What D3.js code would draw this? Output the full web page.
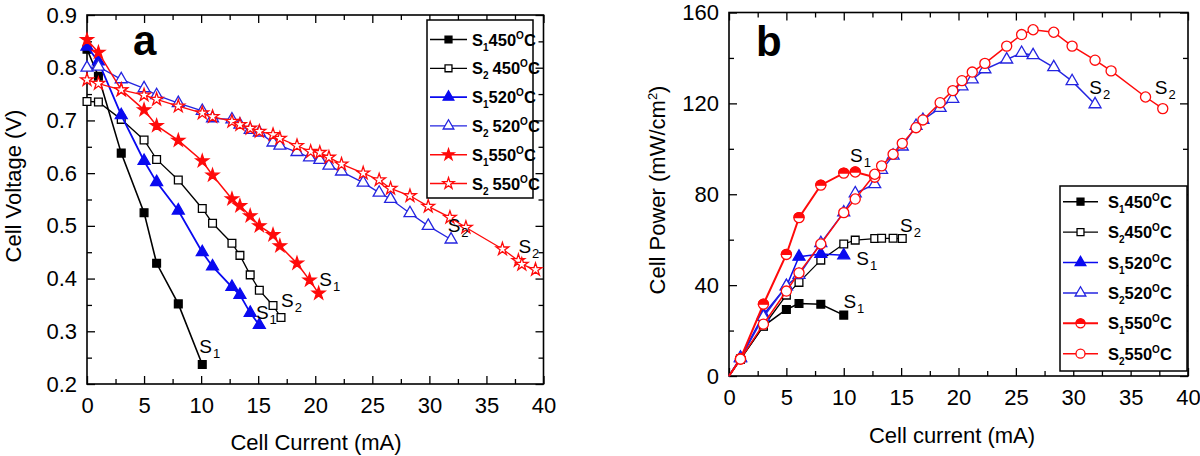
<!DOCTYPE html>
<html><head><meta charset="utf-8">
<script src="https://cdn.jsdelivr.net/npm/d3@7"></script>
<style>body{margin:0;background:#fff}svg{display:block}text{font-family:"Liberation Sans",Arial,Helvetica,sans-serif}</style>
</head><body><svg id="c" width="1200" height="456"></svg>
<script>
// ---------- tick labels ----------
const xTicks = [0, 5, 10, 15, 20, 25, 30, 35, 40];
const xMinor = [2.5, 7.5, 12.5, 17.5, 22.5, 27.5, 32.5, 37.5];
const vTicks = [0.2, 0.3, 0.4, 0.5, 0.6, 0.7, 0.8, 0.9];
const vMinor = [0.25, 0.35, 0.45, 0.55, 0.65, 0.75, 0.85];
const pTicks = [0, 40, 80, 120, 160];
const pMinor = [20, 60, 100, 140];

// ---------- legend ----------
const legendSub = ["1", "2", "1", "2", "1", "2"];
const legendTemp = ["450", "450", "520", "520", "550", "550"];

// ---------- panel a : cell voltage vs current ----------
const a_S1_450_I = [0, 1, 3, 5, 6.1, 8, 10.1];
const a_S1_450_V = [0.835, 0.784, 0.638, 0.525, 0.429, 0.352, 0.237];
const a_S2_450_I = [0, 1, 3, 5, 6.1, 8, 10.1, 11, 12.7, 13.4, 14.3, 15.1, 16.3, 17.0];
const a_S2_450_V = [0.736, 0.735, 0.702, 0.663, 0.626, 0.587, 0.533, 0.505, 0.467, 0.444, 0.407, 0.378, 0.349, 0.326];
const a_S1_520_I = [0, 1, 3, 5, 6.1, 8, 10.1, 11, 12.7, 13.4, 14.3, 15.1];
const a_S1_520_V = [0.84, 0.812, 0.71, 0.623, 0.583, 0.529, 0.45, 0.423, 0.384, 0.369, 0.335, 0.312];
const a_S2_520_I = [0, 1, 3, 5, 6.1, 8, 10.1, 11, 12.7, 13.4, 14.3, 15.1, 16.3, 16.9, 18.4, 19.5, 20.4, 21.2, 22.3, 24.2, 25.6, 26.6, 28.3, 29.9, 31.9];
const a_S2_520_V = [0.80, 0.802, 0.778, 0.761, 0.748, 0.733, 0.718, 0.704, 0.702, 0.692, 0.682, 0.677, 0.658, 0.652, 0.64, 0.63, 0.625, 0.614, 0.603, 0.582, 0.563, 0.551, 0.524, 0.5, 0.474];
const a_S1_550_I = [0, 1, 3, 5, 6.1, 8, 10.1, 11, 12.7, 13.4, 14.3, 15.1, 16.3, 16.9, 18.4, 19.5, 20.3];
const a_S1_550_V = [0.853, 0.829, 0.758, 0.72, 0.69, 0.662, 0.623, 0.596, 0.551, 0.538, 0.519, 0.5, 0.483, 0.462, 0.429, 0.397, 0.372];
const a_S2_550_I = [0, 1, 3, 5, 6.1, 8, 10.1, 11, 12.7, 13.4, 14.3, 15.1, 16.3, 16.9, 18.4, 19.6, 20.4, 21.2, 22.3, 24.2, 25.6, 26.6, 28.3, 29.9, 31.8, 33.2, 36.4, 37.8, 38.1, 39.3];
const a_S2_550_V = [0.777, 0.77, 0.758, 0.748, 0.74, 0.727, 0.714, 0.707, 0.698, 0.692, 0.685, 0.679, 0.673, 0.666, 0.652, 0.641, 0.639, 0.63, 0.617, 0.6, 0.587, 0.571, 0.557, 0.537, 0.516, 0.497, 0.456, 0.434, 0.427, 0.417];
const a_labelSub = ["1", "1", "2", "1", "2", "2"];
const a_labelI = [9.84, 14.8, 17.0, 20.36, 31.6, 37.8];
const a_labelV = [0.259, 0.323, 0.347, 0.386, 0.489, 0.449];

// ---------- panel b : cell power vs current ----------
const b_S1_450_I = [0, 1, 3, 5, 6.1, 8, 10];
const b_S1_450_P = [0, 7.5, 22, 29.3, 31.9, 31.6, 26.8];
const b_S2_450_I = [0, 1, 3, 5, 6.1, 8, 10, 11, 12.7, 13.3, 14.3, 15.1];
const b_S2_450_P = [0, 7.4, 21.9, 35.6, 41.2, 51, 58.1, 59.8, 60.5, 60.6, 60.6, 60.5];
const b_S1_520_I = [0, 1, 3, 5, 6.1, 8, 10];
const b_S1_520_P = [0, 8, 27, 39.4, 52.5, 53.7, 53.1];
const b_S2_520_I = [0, 1, 3, 5, 6.1, 8, 10, 11, 12.7, 13.3, 14.3, 15.1, 16.3, 16.9, 18.4, 19.5, 20.3, 21.2, 22.3, 24.2, 25.5, 26.5, 28.3, 29.9, 31.9];
const b_S2_520_P = [0, 7.8, 26, 39.6, 44.5, 58.5, 72, 80.4, 84.4, 90.7, 97, 101, 110.1, 112.7, 118, 122, 127.5, 130.5, 135, 139.3, 142.2, 141.2, 135.9, 129.8, 119.6];
const b_S1_550_I = [0, 1, 3, 5, 6.1, 8, 10, 11, 12.7];
const b_S1_550_P = [0, 7.6, 31.6, 53.5, 69.7, 84, 89.3, 89.8, 87.5];
const b_S2_550_I = [0, 1, 3, 5, 6.1, 8, 10, 11, 12.7, 13.3, 14.3, 15.1, 16.3, 16.9, 18.4, 19.5, 20.3, 21.2, 22.3, 24.2, 25.5, 26.5, 28.3, 29.9, 31.9, 33.3, 36.3, 37.8];
const b_S2_550_P = [0, 7.4, 22.8, 37.4, 45.4, 58.1, 71.9, 77.9, 88.8, 92.5, 97.6, 102.4, 109.3, 112.7, 120.3, 125.6, 130, 133.8, 137.6, 145.2, 150.3, 152.4, 151.3, 145.2, 139, 134.3, 122.8, 117.7];
const b_labelSub = ["1", "1", "2", "1", "2", "2"];
const b_labelI = [9.97, 11.1, 14.9, 10.55, 31.4, 37.1];
const b_labelP = [29.8, 48.9, 63.5, 94, 124.1, 124.1];

// ---------- drawing ----------
const svg = d3.select("#c");
const BLUE = "#0a0af0", BLUE2 = "#2424e0", RED = "#ff0a0a", BLACK = "#000";
const styleA = [
  {c: BLACK, m: "square", f: "full", w: 1.6},
  {c: BLACK, m: "square", f: "open", w: 1.3},
  {c: BLUE, m: "triangle", f: "full", w: 1.8},
  {c: BLUE2, m: "triangle", f: "open", w: 1.3},
  {c: RED, m: "star", f: "full", w: 1.5},
  {c: RED, m: "star", f: "open", w: 1.3}
];
const styleB = [
  {c: BLACK, m: "square", f: "full", w: 1.6},
  {c: BLACK, m: "square", f: "open", w: 1.3},
  {c: BLUE, m: "triangle", f: "full", w: 1.5},
  {c: BLUE2, m: "triangle", f: "open", w: 1.5},
  {c: RED, m: "circle", f: "half", w: 2},
  {c: RED, m: "circle", f: "open", w: 1.5}
];
const symSize = {square: 60, triangle: 62, star: 50, circle: 80};
const symType = {square: d3.symbolSquare, triangle: d3.symbolTriangle, star: d3.symbolStar, circle: d3.symbolCircle};
const FONT = 22;

function marker(g, st, px, py, scale) {
  const k = scale || 1;
  const path = d3.symbol().type(symType[st.m]).size(symSize[st.m] * k)();
  if (st.f === "half") {
    const r = Math.sqrt(symSize.circle * k / Math.PI);
    g.append("circle").attr("cx", px).attr("cy", py).attr("r", r).attr("fill", "#fff").attr("stroke", st.c).attr("stroke-width", 1.3);
    g.append("path").attr("transform", `translate(${px},${py})`)
      .attr("d", d3.arc()({innerRadius: 0, outerRadius: r, startAngle: -Math.PI / 2, endAngle: Math.PI / 2}))
      .attr("fill", st.c).attr("stroke", st.c).attr("stroke-width", 1.3);
  } else {
    g.append("path").attr("transform", `translate(${px},${py})`).attr("d", path)
      .attr("fill", st.f === "full" ? st.c : "#fff").attr("stroke", st.c).attr("stroke-width", 1.3);
  }
}

function axes(g, x, y, yTicks, yMin, yFmt) {
  const [x0, x1] = x.range(), [y0, y1] = y.range();
  const style = sel => { sel.select(".domain").remove(); sel.selectAll("line").attr("stroke", "#000").attr("stroke-width", 1.3); sel.selectAll("text").attr("font-size", FONT).attr("fill", "#000").style("font-family", '"Liberation Sans",Arial,sans-serif'); };
  g.append("g").attr("transform", `translate(0,${y0})`).call(d3.axisBottom(x).tickValues(xTicks).tickSize(-8).tickSizeOuter(0).tickPadding(13)).call(style);
  g.append("g").attr("transform", `translate(0,${y0})`).call(d3.axisBottom(x).tickValues(xMinor).tickSize(-5).tickSizeOuter(0).tickFormat("")).call(style);
  g.append("g").attr("transform", `translate(0,${y1})`).call(d3.axisTop(x).tickValues(xTicks).tickSize(-8).tickSizeOuter(0).tickFormat("")).call(style);
  g.append("g").attr("transform", `translate(0,${y1})`).call(d3.axisTop(x).tickValues(xMinor).tickSize(-5).tickSizeOuter(0).tickFormat("")).call(style);
  g.append("g").attr("transform", `translate(${x0},0)`).call(d3.axisLeft(y).tickValues(yTicks).tickSize(-8).tickSizeOuter(0).tickPadding(10).tickFormat(yFmt)).call(style);
  g.append("g").attr("transform", `translate(${x0},0)`).call(d3.axisLeft(y).tickValues(yMin).tickSize(-5).tickSizeOuter(0).tickFormat("")).call(style);
  g.append("g").attr("transform", `translate(${x1},0)`).call(d3.axisRight(y).tickValues(yTicks).tickSize(-8).tickSizeOuter(0).tickFormat("")).call(style);
  g.append("g").attr("transform", `translate(${x1},0)`).call(d3.axisRight(y).tickValues(yMin).tickSize(-5).tickSizeOuter(0).tickFormat("")).call(style);
  g.append("rect").attr("x", x0).attr("y", y1).attr("width", x1 - x0).attr("height", y0 - y1)
    .attr("fill", "none").attr("stroke", "#000").attr("stroke-width", 1.6);
}

function series(g, x, y, I, Y, st, skipZero) {
  const pts = I.map((v, i) => [v, Y[i]]);
  g.append("path").attr("d", d3.line().x(d => x(d[0])).y(d => y(d[1]))(pts))
    .attr("fill", "none").attr("stroke", st.c).attr("stroke-width", st.w);
  pts.forEach(d => { if (!(skipZero && d[0] === 0)) marker(g, st, x(d[0]), y(d[1])); });
}

function curveLabels(g, x, y, subs, I, Y) {
  subs.forEach((s, i) => {
    const t = g.append("text").attr("x", x(I[i])).attr("y", y(Y[i])).attr("font-size", 19).attr("fill", "#000");
    t.append("tspan").text("S");
    t.append("tspan").attr("font-size", 13).attr("dy", 5).attr("dx", 1).text(s);
  });
}

function legend(g, styles, bx, by, bw, bh, rowY0, rowStep, lineX0, lineX1, textX, spaced) {
  g.append("rect").attr("x", bx).attr("y", by).attr("width", bw).attr("height", bh)
    .attr("fill", "#fff").attr("stroke", "#000").attr("stroke-width", 1.5);
  styles.forEach((st, i) => {
    const cy = rowY0 + i * rowStep;
    g.append("line").attr("x1", lineX0).attr("x2", lineX1).attr("y1", cy).attr("y2", cy).attr("stroke", st.c).attr("stroke-width", st.w);
    marker(g, st, (lineX0 + lineX1) / 2, cy, 0.8);
    const t = g.append("text").attr("x", textX).attr("y", cy + 6).attr("font-size", 16.5).attr("font-weight", "bold").attr("fill", "#000");
    t.append("tspan").text("S");
    t.append("tspan").attr("font-size", 10).attr("dy", 5).text(legendSub[i]);
    t.append("tspan").attr("dy", -5).attr("dx", spaced && legendSub[i] === "2" ? 4 : 0).text(legendTemp[i]);
    t.append("tspan").attr("font-size", 10).attr("dy", -7).text("O");
    t.append("tspan").attr("dy", 7).text("C");
  });
}

// ----- panel a -----
const xa = d3.scaleLinear().domain([0, 40]).range([87, 543.5]);
const ya = d3.scaleLinear().domain([0.2, 0.9]).range([384, 15]);
const ga = svg.append("g");
axes(ga, xa, ya, vTicks, vMinor, d3.format(".1f"));
const aI = [a_S1_450_I, a_S2_450_I, a_S1_520_I, a_S2_520_I, a_S1_550_I, a_S2_550_I];
const aV = [a_S1_450_V, a_S2_450_V, a_S1_520_V, a_S2_520_V, a_S1_550_V, a_S2_550_V];
aI.forEach((I, i) => series(ga, xa, ya, I, aV[i], styleA[i], false));
curveLabels(ga, xa, ya, a_labelSub, a_labelI, a_labelV);
legend(ga, styleA, 427, 20, 106, 178, 39.5, 28.8, 430, 467, 472, true);
ga.append("text").attr("x", 133).attr("y", 55).attr("font-size", 42).attr("font-weight", "bold").text("a");
ga.append("text").attr("x", 316).attr("y", 450).attr("text-anchor", "middle").attr("font-size", FONT).text("Cell Current (mA)");
ga.append("text").attr("transform", "translate(21,186) rotate(-90)").attr("text-anchor", "middle").attr("font-size", FONT).text("Cell Voltage (V)");

// ----- panel b -----
const xb = d3.scaleLinear().domain([0, 40]).range([729, 1188]);
const yb = d3.scaleLinear().domain([0, 160]).range([376, 12.5]);
const gb = svg.append("g");
axes(gb, xb, yb, pTicks, pMinor, d3.format("d"));
const bI = [b_S1_450_I, b_S2_450_I, b_S1_520_I, b_S2_520_I, b_S1_550_I, b_S2_550_I];
const bP = [b_S1_450_P, b_S2_450_P, b_S1_520_P, b_S2_520_P, b_S1_550_P, b_S2_550_P];
bI.forEach((I, i) => series(gb, xb, yb, I, bP[i], styleB[i], true));
curveLabels(gb, xb, yb, b_labelSub, b_labelI, b_labelP);
legend(gb, styleB, 1060, 186, 127, 185, 201.7, 30.4, 1063, 1098, 1108, false);
gb.append("text").attr("x", 756).attr("y", 56).attr("font-size", 42).attr("font-weight", "bold").text("b");
gb.append("text").attr("x", 952).attr("y", 443).attr("text-anchor", "middle").attr("font-size", FONT).text("Cell current (mA)");
const yl = gb.append("text").attr("transform", "translate(665,190) rotate(-90)").attr("text-anchor", "middle").attr("font-size", FONT);
yl.append("tspan").text("Cell Power (mW/cm");
yl.append("tspan").attr("font-size", 13).attr("dy", -8).text("2");
yl.append("tspan").attr("dy", 8).text(")");
</script></body></html>
